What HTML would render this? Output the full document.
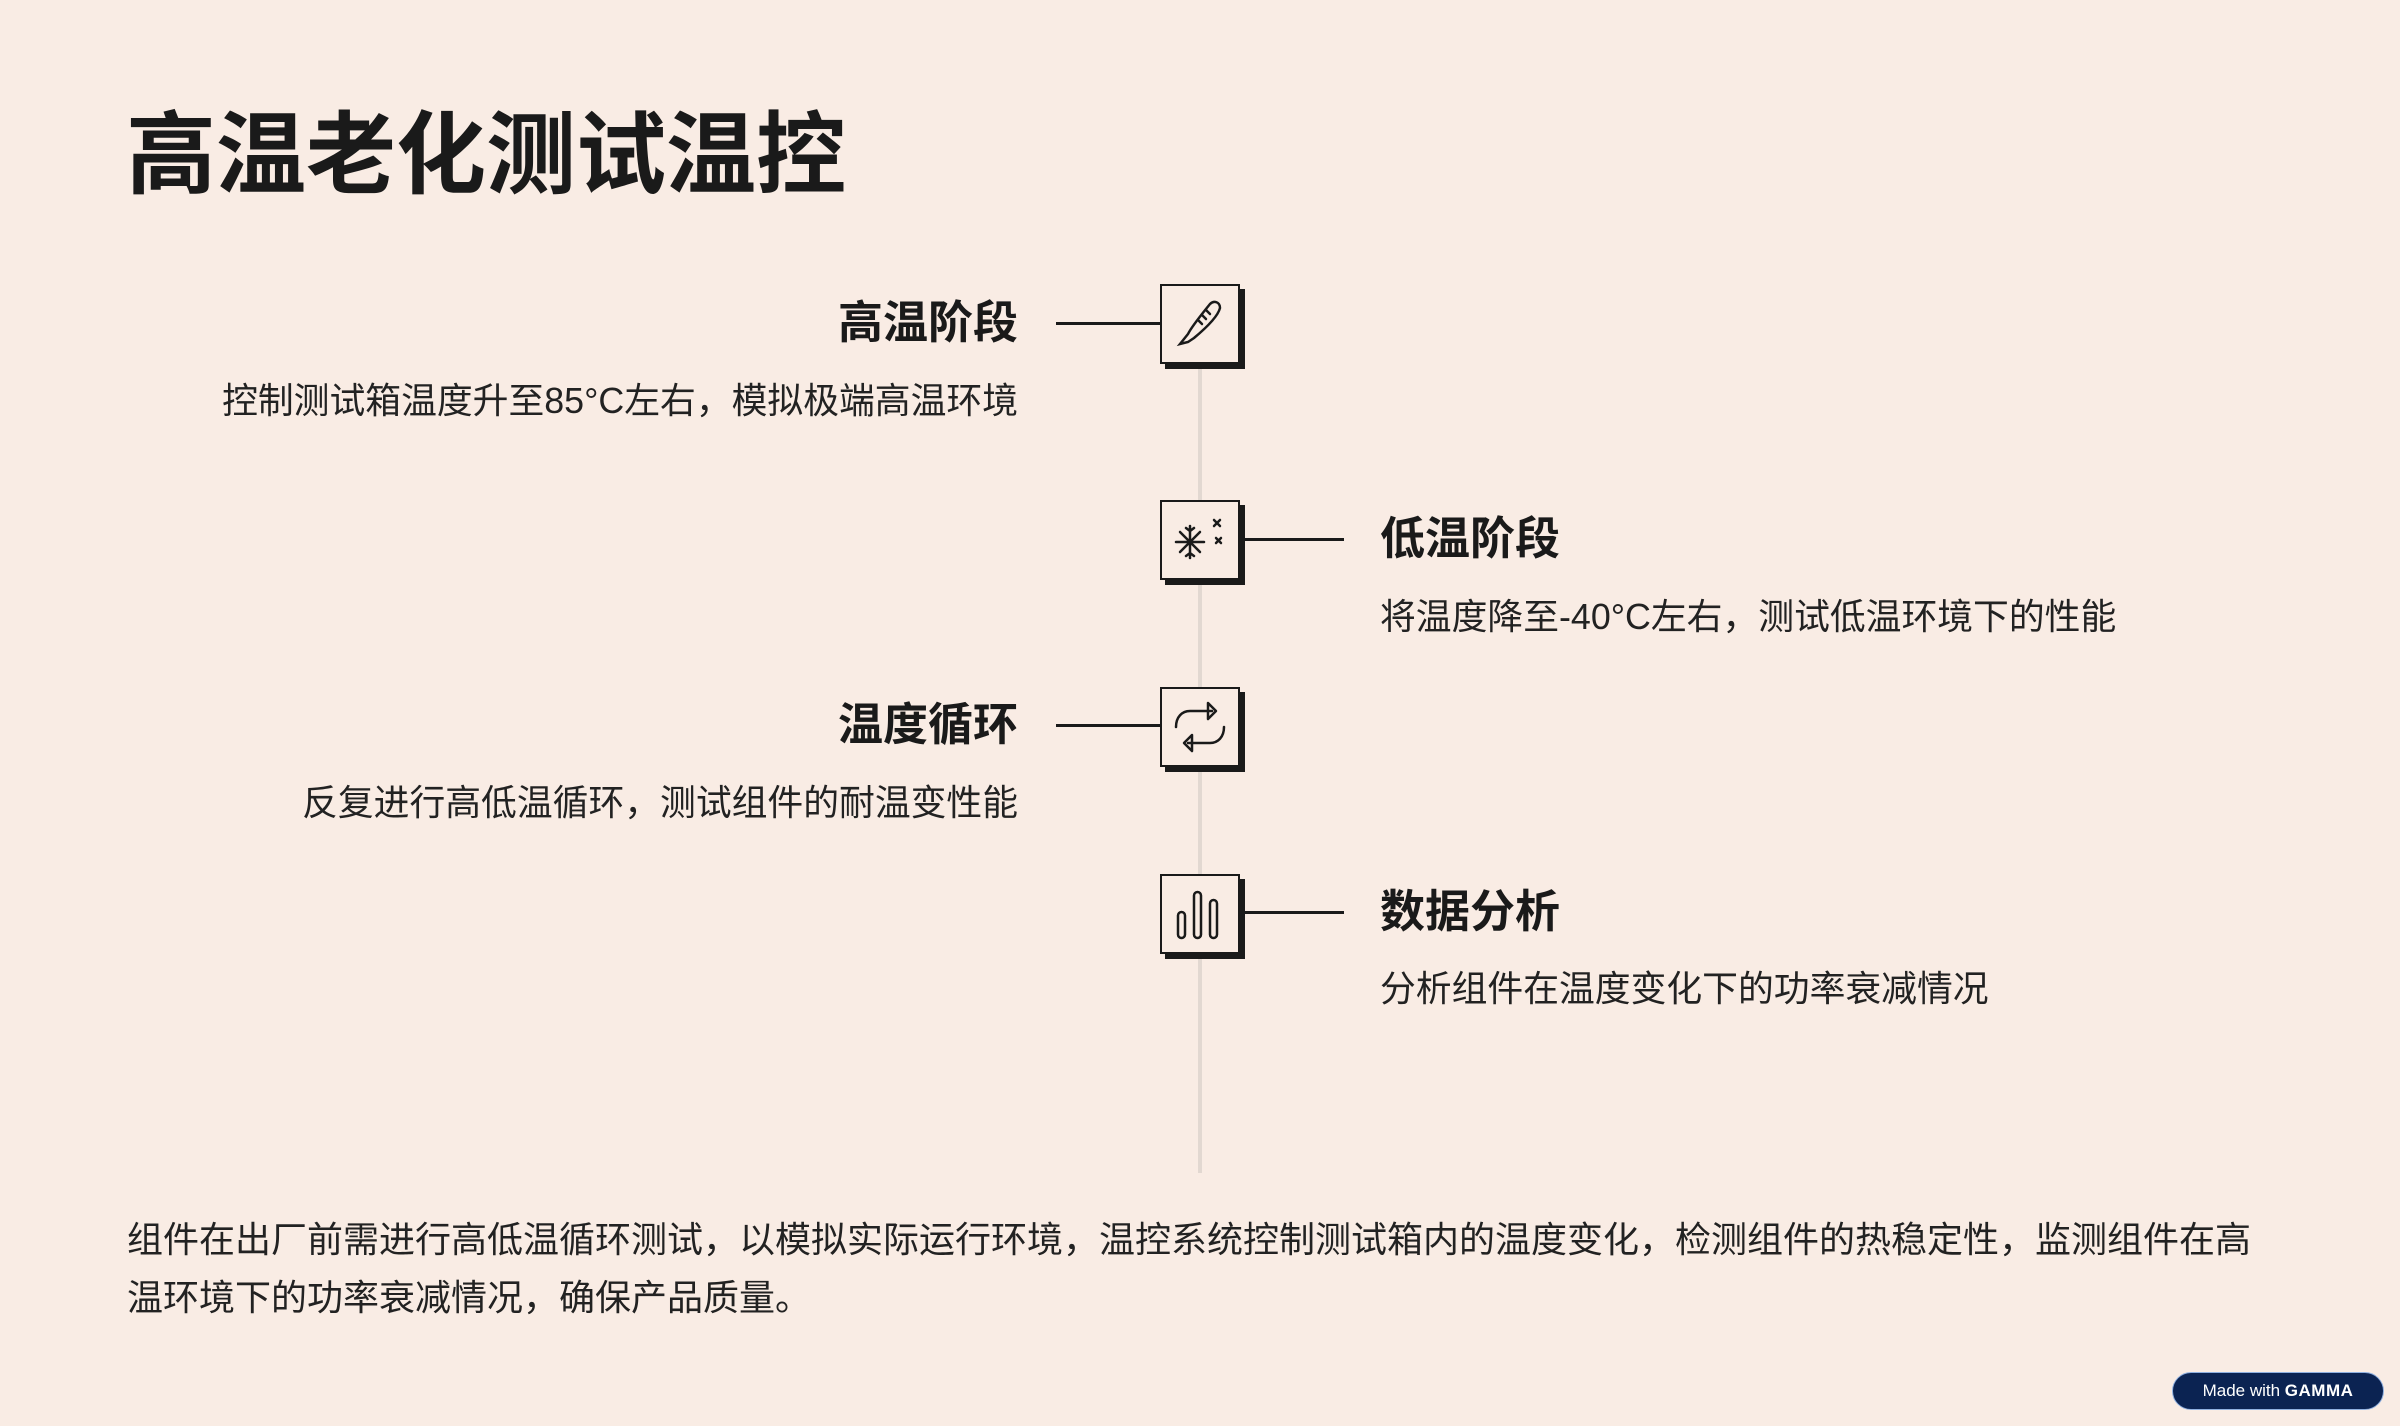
<!DOCTYPE html>
<html><head><meta charset="utf-8"><style>
*{margin:0;padding:0;box-sizing:border-box}
body{width:2400px;height:1426px;background:#f9ece4;position:relative;overflow:hidden;font-family:"Liberation Sans","Noto Sans CJK SC",sans-serif;color:#1a1a1a}
.a{position:absolute;white-space:nowrap}
h1{position:absolute;left:126px;top:111px;font-size:90px;font-weight:700;line-height:1;letter-spacing:0px}
.h{font-size:45px;font-weight:700;line-height:1}
.d{font-size:35.8px;line-height:1;color:#222}
.r{text-align:right}
.box{position:absolute;left:1160px;width:80px;height:80px;border:2px solid #1a1a1a;background:#f9ece4;box-shadow:5px 5px 0 #1a1a1a}
.box svg{position:absolute;left:0;top:0}
.ln{position:absolute;height:3px;background:#1a1a1a}
</style></head><body>
<h1>高温老化测试温控</h1>
<div class="a" style="left:1198px;top:367px;width:4px;height:806px;background:#e2d8d1"></div>

<div class="ln" style="left:1056px;top:322px;width:104px"></div>
<div class="ln" style="left:1240px;top:538px;width:104px"></div>
<div class="ln" style="left:1056px;top:724px;width:104px"></div>
<div class="ln" style="left:1240px;top:911px;width:104px"></div>

<div class="box" style="top:284px"><svg width="76" height="76" viewBox="0 0 76 76" fill="none" stroke="#1a1a1a" stroke-width="2.5" stroke-linecap="round"><path d="M18 58 L26 48 C30 40 40 28 48 18 C52 14 58 16 58 22 C56 30 44 42 32 52 L26 56 Z"/><path d="M36 34l4 4M40 29l4 4M44 24l4 4"/></svg></div>
<div class="box" style="top:500px"><svg width="76" height="76" viewBox="0 0 76 76" fill="none" stroke="#1a1a1a" stroke-width="2.5" stroke-linecap="round"><path d="M28 24v32M14 40h28M18 30l20 20M38 30L18 50M24 26l4 3 4-3M24 54l4-3 4 3M52 18l6 6M58 18l-6 6M54 36l5 5M59 36l-5 5"/></svg></div>
<div class="box" style="top:687px"><svg width="76" height="76" viewBox="0 0 76 76" fill="none" stroke="#1a1a1a" stroke-width="2.5" stroke-linecap="round" stroke-linejoin="round"><path d="M14 38c0-10 6-16 14-16h22M46 14l8 8-8 8Z"/><path d="M62 38c0 10-6 16-14 16H26M30 46l-8 8 8 8Z"/></svg></div>
<div class="box" style="top:874px"><svg width="76" height="76" viewBox="0 0 76 76" fill="none" stroke="#1a1a1a" stroke-width="2.5"><rect x="16" y="36" width="7" height="26" rx="3.5"/><rect x="32" y="16" width="7" height="46" rx="3.5"/><rect x="48" y="24" width="7" height="38" rx="3.5"/></svg></div>

<div class="a h r" style="right:1382px;top:300px">高温阶段</div>
<div class="a d r" style="right:1382px;top:384px">控制测试箱温度升至85°C左右，模拟极端高温环境</div>
<div class="a h" style="left:1380px;top:516px">低温阶段</div>
<div class="a d" style="left:1380px;top:600px">将温度降至-40°C左右，测试低温环境下的性能</div>
<div class="a h r" style="right:1382px;top:702px">温度循环</div>
<div class="a d r" style="right:1382px;top:786px">反复进行高低温循环，测试组件的耐温变性能</div>
<div class="a h" style="left:1380px;top:889px">数据分析</div>
<div class="a d" style="left:1380px;top:972px">分析组件在温度变化下的功率衰减情况</div>

<div class="a" style="left:127px;top:1211px;font-size:36px;line-height:58px;white-space:normal;width:2140px;color:#222">组件在出厂前需进行高低温循环测试，以模拟实际运行环境，温控系统控制测试箱内的温度变化，检测组件的热稳定性，监测组件在高温环境下的功率衰减情况，确保产品质量。</div>

<div class="a" style="left:2172px;top:1372px;width:212px;height:38px;border-radius:19px;background:#0b2352;border:1px solid #8fb0e0;color:#fff;font-size:17px;line-height:36px;text-align:center">Made with <b style="letter-spacing:0.5px">GAMMA</b></div>
</body></html>
